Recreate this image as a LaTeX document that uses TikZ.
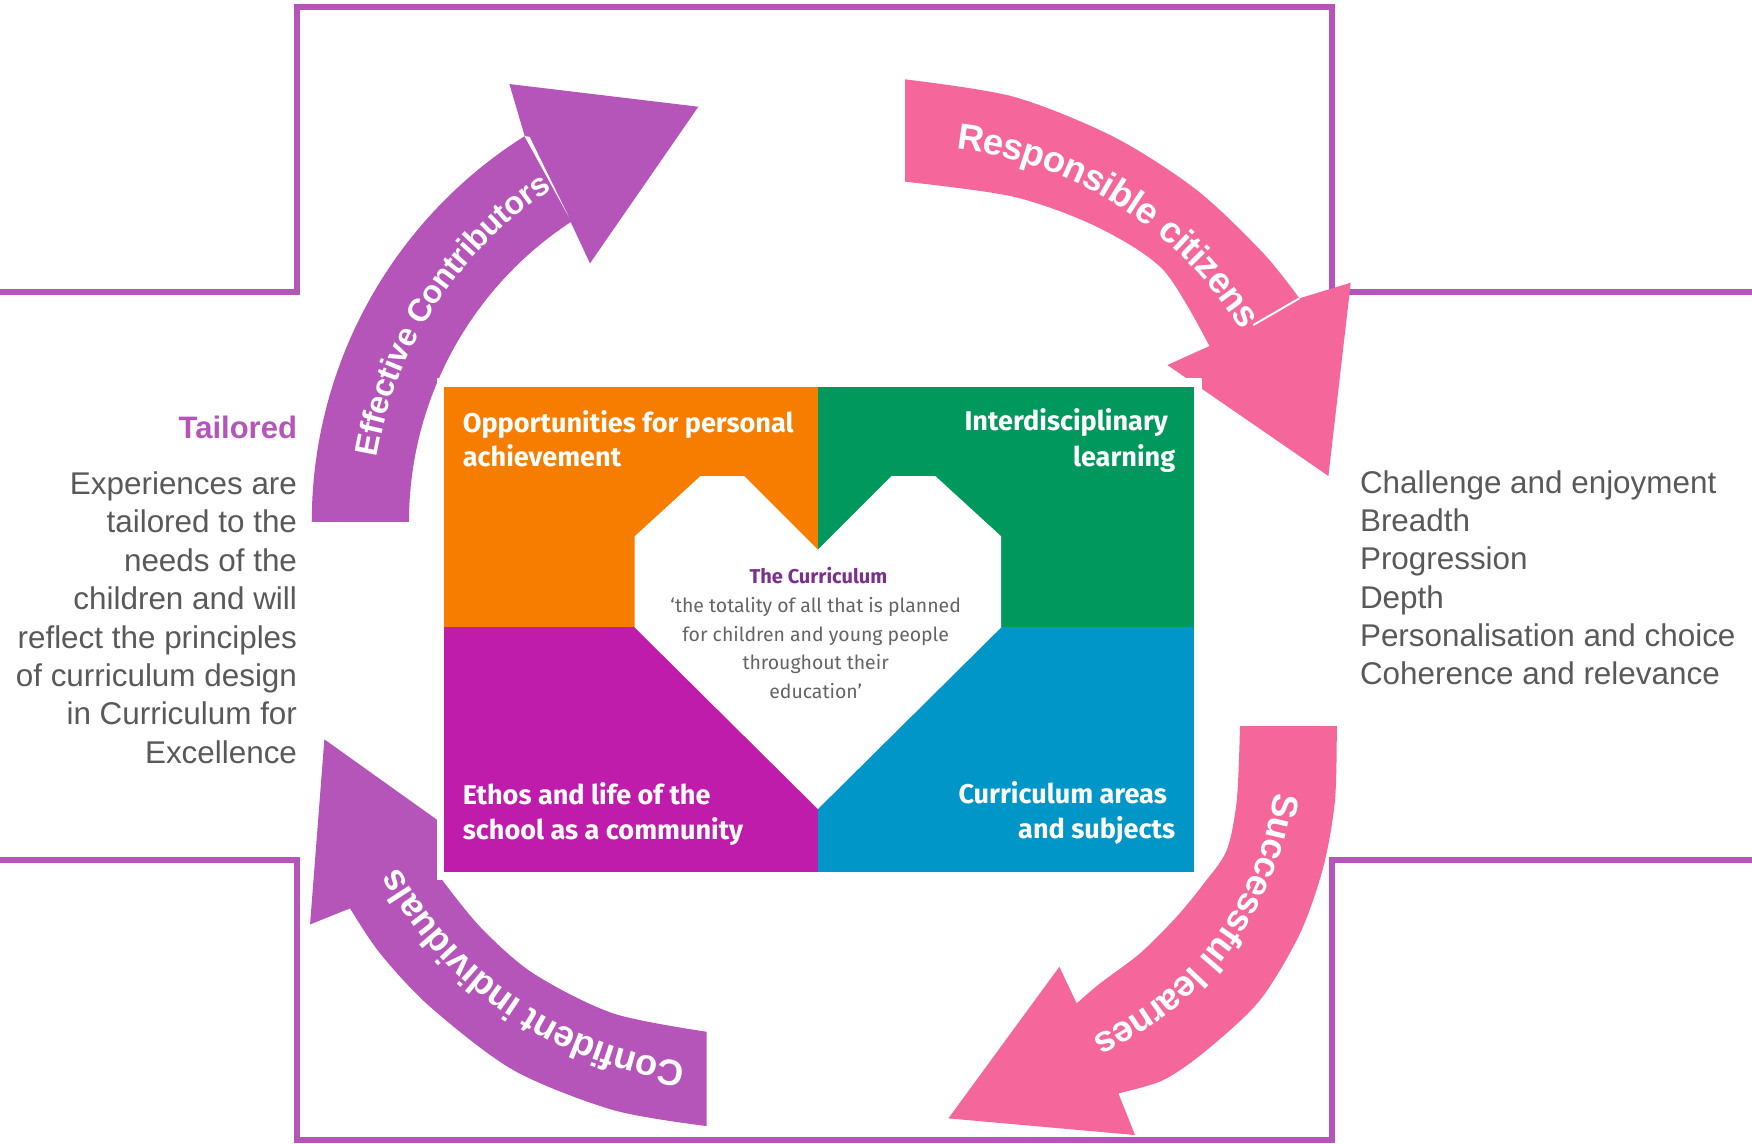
\documentclass[tikz,border=0pt]{standalone}
\usepackage{fontspec}
\setmainfont{Liberation Sans}
\newfontfamily\boxfont{Fira Sans}
\usetikzlibrary{decorations.text}

\definecolor{cfeviolet}{RGB}{181,84,185}
\definecolor{cfepink}{RGB}{245,103,155}
\definecolor{quadorange}{RGB}{247,125,0}
\definecolor{quadgreen}{RGB}{0,152,92}
\definecolor{quadmagenta}{RGB}{192,28,171}
\definecolor{quadblue}{RGB}{0,150,199}
\definecolor{sidegrey}{RGB}{89,89,89}
\definecolor{heartgrey}{RGB}{100,100,100}
\definecolor{heartviolet}{RGB}{122,48,140}

\begin{document}
\begin{tikzpicture}[x=0.1mm, y=-0.1mm,
  frameline/.style={cfeviolet, line width=1.55pt},
  boxlabel/.style={inner sep=0pt, text=white, font=\boxfont\bfseries\fontsize{6.9}{8}\selectfont},
  heartline/.style={inner sep=0pt, anchor=base, text=heartgrey, font=\boxfont\fontsize{4.95}{6}\selectfont},
  sidetext/.style={inner sep=0pt, text=sidegrey, font=\fontsize{8}{9.8}\selectfont},
  ringtext/.style={decorate, decoration={text along path, text align=right, text color=white}}
]
\useasboundingbox (0,0) rectangle (1568,1023);

% frame
\draw[frameline] (0,261) -- (265.7,261) -- (265.7,6.5) -- (1192.3,6.5) -- (1192.3,261) -- (1568,261);
\draw[frameline] (0,769.7) -- (265.7,769.7) -- (265.7,1020.5) -- (1192.3,1020.5) -- (1192.3,769.7) -- (1568,769.7);

% Effective Contributors
\fill[cfeviolet] plot[domain=180:237.8, samples=40] ({687+408*cos(\x)},{467+408*sin(\x)})
  -- (455.9,75.2) -- (625,95.5) -- (528,235.7)
  -- plot[domain=0:56.7, samples=40] ({687+321*cos(236.7-\x)},{467+321*sin(236.7-\x)}) -- cycle;
\fill[white] (469.3,121.7) -- (474,122.5) -- (509,194) -- cycle;
\path[ringtext, decoration={raise=-2.9pt, text={|\bfseries\fontsize{8.2}{10}\selectfont|Effective Contributors}}]
  plot[domain=182:237, samples=40] ({687+364.5*cos(\x)},{467+364.5*sin(\x)});

% Responsible citizens
\fill[cfepink] plot[smooth] coordinates {(810,71) (906.9,86.5) (996.4,122.3) (1071,170) (1130.7,226.7) (1162.9,267)}
  -- (1208.9,253) -- (1188.9,426) -- (1044.8,326.7)
  -- plot[smooth] coordinates {(1082.4,309.7) (1041.2,241.7) (981.5,202.9) (906.9,176) (810,162.6)} -- cycle;
\draw[white, line width=0.5pt] (1121.7,290.9) -- (1162.9,267);
\path[ringtext, decoration={raise=-3.3pt, text={|\bfseries\fontsize{9.3}{11}\selectfont|Responsible citizens}}]
  plot[domain=269.3:328.2, samples=50] ({814.2+361*cos(\x)},{479.8+361*sin(\x)});

% Successful learnes
\fill[cfepink] plot[smooth] coordinates {(1196.4,649.8) (1194.8,716) (1184.4,775.7) (1163.5,835.3) (1127.7,895) (1080,939.8) (1041.2,966.6) (1000.9,978.5)}
  -- (1015.8,1015.8) -- (848.8,1000.9) -- (948.1,865.2)
  -- plot[smooth] coordinates {(963.6,898) (984.5,880.1) (1020.3,853.2) (1053.1,820.4) (1078,790) (1097.9,760.8) (1106.9,716) (1109.8,649.8)} -- cycle;
\path[ringtext, decoration={raise=-3.3pt, text={|\bfseries\fontsize{9.3}{11}\selectfont|Successful learnes}}]
  plot[domain=-4.7:65.9, samples=50] ({864.1+290*cos(\x)},{673.6+290*sin(\x)});

% Confident individuals
\fill[cfeviolet] plot[smooth] coordinates {(632.5,1007.8) (548.9,993.5) (459.4,957.7) (384.9,901) (340.1,853.2) (313.3,813)}
  -- (277.5,827.3) -- (290.3,661.7) -- (435,765)
  -- plot[smooth] coordinates {(393,784) (429.6,829.4) (477.3,871.2) (548.9,907) (632.5,923.4)} -- cycle;
\path[ringtext, decoration={raise=-3.3pt, text={|\bfseries\fontsize{9.3}{11}\selectfont|Confident individuals}}]
  plot[domain=93.5:151.4, samples=50] ({654+350*cos(\x)},{614.4+350*sin(\x)});

% curriculum picture
\fill[white] (391,338.6) rectangle (1075.5,787.6);
\fill[quadorange] (397,346) rectangle (732,561.5);
\fill[quadgreen] (732,346) rectangle (1069,561.5);
\fill[quadmagenta] (397,561.5) rectangle (732,780);
\fill[quadblue] (732,561.5) rectangle (1069,780);
\fill[white] (732,492) -- (666,426) -- (627,426) -- (568,480) -- (568,561.5) -- (732,724)
  -- (896,561.5) -- (896,480) -- (837,426) -- (798,426) -- cycle;

\node[boxlabel, anchor=base west] (opp1) at (413.5,386.8) {Opportunities for personal};
\node[boxlabel, anchor=base west] (opp2) at (413.5,417.9) {achievement};
\node[boxlabel, anchor=base east] (idl1) at (1046,385.3) {Interdisciplinary};
\node[boxlabel, anchor=base east] (idl2) at (1052.5,417.3) {learning};
\node[boxlabel, anchor=base west] (eth1) at (413.5,720.3) {Ethos and life of the};
\node[boxlabel, anchor=base west] (eth2) at (413.5,751.7) {school as a community};
\node[boxlabel, anchor=base east] (cur1) at (1045,718.8) {Curriculum areas};
\node[boxlabel, anchor=base east] (cur2) at (1052.5,750.2) {and subjects};

\node[heartline, text=heartviolet, font=\boxfont\bfseries\fontsize{5.1}{6}\selectfont] (hrt0) at (732.5,521.8) {The Curriculum};
\node[heartline] (hrt1) at (730,548.6) {‘the totality of all that is planned};
\node[heartline] (hrt2) at (730,574) {for children and young people};
\node[heartline] (hrt3) at (730,599.4) {throughout their};
\node[heartline] (hrt4) at (730,624.8) {education’};

% left column
\node[sidetext, anchor=base east, text=cfeviolet, font=\bfseries\fontsize{7.9}{9.8}\selectfont] (tail) at (266.5,392) {Tailored};
\node[sidetext, anchor=base east] (lft1) at (266.5,442.6) {Experiences are};
\node[sidetext, anchor=base east] (lft2) at (266.5,477) {tailored to the};
\node[sidetext, anchor=base east] (lft3) at (266.5,511.3) {needs of the};
\node[sidetext, anchor=base east] (lft4) at (266.5,545.7) {children and will};
\node[sidetext, anchor=base east] (lft5) at (266.5,580) {reflect the principles};
\node[sidetext, anchor=base east] (lft6) at (266.5,614.4) {of curriculum design};
\node[sidetext, anchor=base east] (lft7) at (266.5,648.7) {in Curriculum for};
\node[sidetext, anchor=base east] (lft8) at (266.5,683) {Excellence};

% right column
\node[sidetext, anchor=base west] (rgt1) at (1216.5,441.6) {Challenge and enjoyment};
\node[sidetext, anchor=base west] (rgt2) at (1216.5,475.8) {Breadth};
\node[sidetext, anchor=base west] (rgt3) at (1216.5,510) {Progression};
\node[sidetext, anchor=base west] (rgt4) at (1216.5,544.2) {Depth};
\node[sidetext, anchor=base west] (rgt5) at (1216.5,578.4) {Personalisation and choice};
\node[sidetext, anchor=base west] (rgt6) at (1216.5,612.6) {Coherence and relevance};

\end{tikzpicture}
\end{document}
